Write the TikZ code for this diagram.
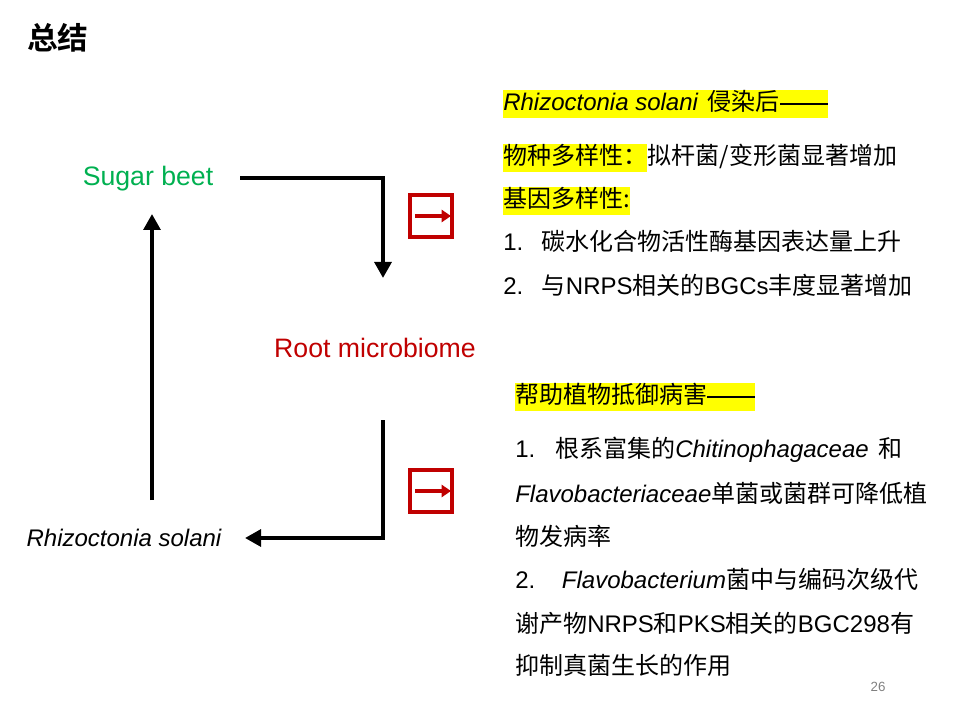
\documentclass[tikz,border=0pt]{standalone}
\usepackage{fontspec}
\setmainfont{Liberation Sans}
\newfontfamily\cjk{Noto Sans CJK SC}
\newfontfamily\cjkb{Noto Sans CJK SC Bold}
\newcommand\zh[1]{{\cjk #1}}
\newcommand\ldash{\raisebox{4.6pt}{\rule{36pt}{1.5pt}}}
\usetikzlibrary{arrows.meta}
\definecolor{sgreen}{HTML}{00B050}
\definecolor{dred}{HTML}{C00000}
\definecolor{hl}{HTML}{FFFF00}
\begin{document}
\begin{tikzpicture}[x=0.75pt,y=-0.75pt,
  rt/.style={anchor=west,inner xsep=0pt,inner ysep=1.5pt,font=\fontsize{18}{22}\selectfont,text height=14pt,text depth=4pt},
  hlt/.style={rt,fill=hl},
  bigarr/.style={line width=3pt,-{Triangle[length=12pt,width=12.5pt]}},
  redbox/.style={draw=dred,line width=3pt,minimum size=31pt,inner sep=0pt},
  redarr/.style={draw=dred,line width=2.6pt,-{Triangle[length=7pt,width=9pt]}}]
\useasboundingbox (0,0) rectangle (960,720);
% title
\node (title) [anchor=west,inner sep=0pt,font=\fontsize{23}{26}\selectfont\cjkb] at (27,38) {总结};
% left cycle
\node (sugar) [font=\fontsize{20}{24}\selectfont,text=sgreen,inner sep=0pt] at (148,179) {Sugar beet};
\node (root) [font=\fontsize{20}{24}\selectfont,text=dred,inner sep=0pt] at (375,348) {Root microbiome};
\node (rhizo) [font=\fontsize{18}{22}\selectfont\itshape,inner sep=0pt] at (124,538) {Rhizoctonia solani};
\coordinate (t1) at (240,178);
\coordinate (t2) at (383,278);
\coordinate (l1) at (152,500);
\coordinate (l2) at (152,214);
\coordinate (b1) at (383,420);
\coordinate (b2) at (245,538);
\draw[bigarr] (t1) -| (t2);
\draw[bigarr] (l1) -- (l2);
\draw[bigarr] (b1) |- (b2);
% red boxes
\node (box1) [redbox] at (431,216) {};
\node (box2) [redbox] at (431,491) {};
\draw[redarr] ([xshift=-12]box1.center) -- ([xshift=15]box1.center);
\draw[redarr] ([xshift=-12]box2.center) -- ([xshift=15]box2.center);
% top right text
\node (r1) [hlt] at (503,104) {\textit{Rhizoctonia solani}\hspace{7pt}\zh{侵染后}\ldash};
\node (r2a) [hlt] at (503,158) {\zh{物种多样性：}};
\node (r2b) [rt] at (r2a.east) {\zh{拟杆菌/变形菌显著增加}};
\node (r3) [hlt] at (503,201) {\zh{基因多样性:}};
\node (r4) [rt] at (503,244) {1.\hspace{14pt}\zh{碳水化合物活性酶基因表达量上升}};
\node (r5) [rt] at (503,288) {2.\hspace{14pt}\zh{与}NRPS\zh{相关的}BGCs\zh{丰度显著增加}};
% bottom right text
\node (s1) [hlt] at (515,397) {\zh{帮助植物抵御病害}\ldash};
\node (s2) [rt] at (515,451) {1.\hspace{15pt}\zh{根系富集的}\textit{Chitinophagaceae}\hspace{7pt}\zh{和}};
\node (s3) [rt] at (515,496) {\textit{Flavobacteriaceae}\zh{单菌或菌群可降低植}};
\node (s4) [rt] at (515,539) {\zh{物发病率}};
\node (s5) [rt] at (515,582) {2.\hspace{20pt}\textit{Flavobacterium}\zh{菌中与编码次级代}};
\node (s6) [rt] at (515,626) {\zh{谢产物}NRPS\zh{和}PKS\zh{相关的}BGC298\zh{有}};
\node (s7) [rt] at (515,668) {\zh{抑制真菌生长的作用}};
\node (pg) [font=\fontsize{10}{12}\selectfont,text=black!50,inner sep=0pt] at (878,687) {26};
\end{tikzpicture}
\end{document}
